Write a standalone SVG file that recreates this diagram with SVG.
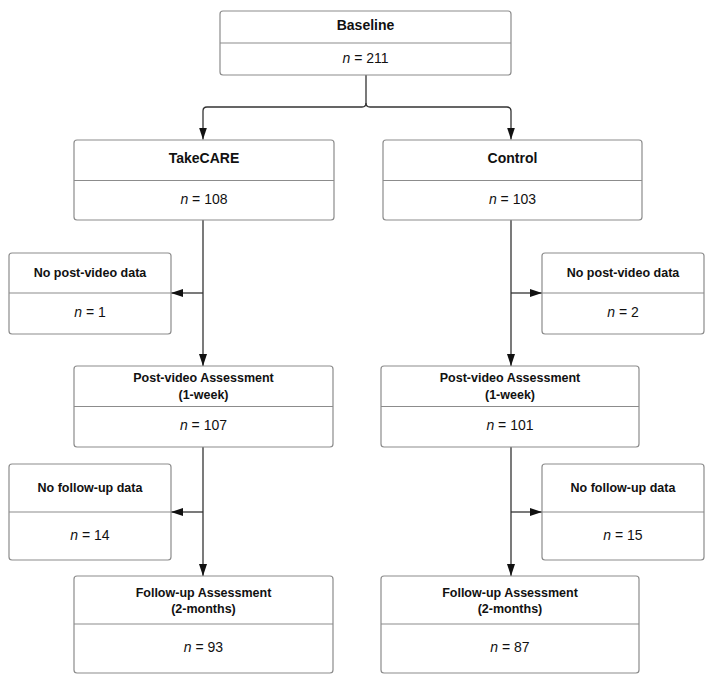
<svg xmlns="http://www.w3.org/2000/svg" width="714" height="685" viewBox="0 0 714 685">
<style>
.box{fill:#fff;stroke:#8c8c8c;stroke-width:1.2}
.div{stroke:#8c8c8c;stroke-width:1.2}
.t{font-family:"Liberation Sans",Arial,sans-serif;font-weight:bold;font-size:12.5px;fill:#111;text-anchor:middle}
.n{font-family:"Liberation Sans",Arial,sans-serif;font-size:14px;fill:#111;text-anchor:middle}
.c{fill:none;stroke:#333;stroke-width:1.3}
</style>
<defs>
<marker id="ah" markerWidth="12" markerHeight="8" refX="12" refY="4" orient="auto" markerUnits="userSpaceOnUse">
<path d="M0,0 L12,4 L0,8 Z" fill="#111"/>
</marker>
</defs>
<rect width="714" height="685" fill="#fff"/>
<g id="connectors">
<path class="c" d="M366 75 V103 Q366 107 362 107 H207 Q203 107 203 111 V139.5" marker-end="url(#ah)"/>
<path class="c" d="M366 103 Q366 107 370 107 H507 Q511 107 511 111 V139.5" marker-end="url(#ah)"/>
<path class="c" d="M203 220 V366" marker-end="url(#ah)"/>
<path class="c" d="M203 293 H171" marker-end="url(#ah)"/>
<path class="c" d="M203 447 V576" marker-end="url(#ah)"/>
<path class="c" d="M203 512 H171" marker-end="url(#ah)"/>
<path class="c" d="M511 220 V366" marker-end="url(#ah)"/>
<path class="c" d="M511 293 H542" marker-end="url(#ah)"/>
<path class="c" d="M511 447 V576" marker-end="url(#ah)"/>
<path class="c" d="M511 512 H542" marker-end="url(#ah)"/>
</g>
<g id="baseline">
<rect class="box" x="220" y="11" width="291" height="64" rx="3"/>
<line class="div" x1="220" y1="43" x2="511" y2="43"/>
<text class="t" x="365.5" y="30" style="font-size:14px">Baseline</text>
<text class="n" x="365.5" y="63"><tspan font-style="italic">n</tspan> = 211</text>
</g>
<g id="takecare">
<rect class="box" x="74" y="140" width="260" height="80" rx="3"/>
<line class="div" x1="74" y1="180.5" x2="334" y2="180.5"/>
<text class="t" x="204" y="163" style="font-size:14px">TakeCARE</text>
<text class="n" x="204" y="204"><tspan font-style="italic">n</tspan> = 108</text>
</g>
<g id="control">
<rect class="box" x="383" y="140" width="259" height="80" rx="3"/>
<line class="div" x1="383" y1="180.5" x2="642" y2="180.5"/>
<text class="t" x="512.5" y="163" style="font-size:14px">Control</text>
<text class="n" x="512.5" y="204"><tspan font-style="italic">n</tspan> = 103</text>
</g>
<g id="nopost-left">
<rect class="box" x="9" y="253" width="162" height="81" rx="3"/>
<line class="div" x1="9" y1="293" x2="171" y2="293"/>
<text class="t" x="90" y="276.5">No post-video data</text>
<text class="n" x="90" y="317"><tspan font-style="italic">n</tspan> = 1</text>
</g>
<g id="nopost-right">
<rect class="box" x="542" y="253" width="162" height="81" rx="3"/>
<line class="div" x1="542" y1="293" x2="704" y2="293"/>
<text class="t" x="623" y="276.5">No post-video data</text>
<text class="n" x="623" y="317"><tspan font-style="italic">n</tspan> = 2</text>
</g>
<g id="post-left">
<rect class="box" x="74" y="366" width="259" height="81" rx="3"/>
<line class="div" x1="74" y1="406.5" x2="333" y2="406.5"/>
<text class="t" x="203.5" y="381.5">Post-video Assessment</text>
<text class="t" x="203.5" y="398.5">(1-week)</text>
<text class="n" x="203.5" y="430"><tspan font-style="italic">n</tspan> = 107</text>
</g>
<g id="post-right">
<rect class="box" x="381" y="366" width="258" height="81" rx="3"/>
<line class="div" x1="381" y1="406.5" x2="639" y2="406.5"/>
<text class="t" x="510" y="381.5">Post-video Assessment</text>
<text class="t" x="510" y="398.5">(1-week)</text>
<text class="n" x="510" y="430"><tspan font-style="italic">n</tspan> = 101</text>
</g>
<g id="nofollow-left">
<rect class="box" x="9" y="464" width="162" height="96" rx="3"/>
<line class="div" x1="9" y1="512" x2="171" y2="512"/>
<text class="t" x="90" y="491.5">No follow-up data</text>
<text class="n" x="90" y="540"><tspan font-style="italic">n</tspan> = 14</text>
</g>
<g id="nofollow-right">
<rect class="box" x="542" y="464" width="162" height="96" rx="3"/>
<line class="div" x1="542" y1="512" x2="704" y2="512"/>
<text class="t" x="623" y="491.5">No follow-up data</text>
<text class="n" x="623" y="540"><tspan font-style="italic">n</tspan> = 15</text>
</g>
<g id="follow-left">
<rect class="box" x="74" y="576" width="259" height="97" rx="3"/>
<line class="div" x1="74" y1="624" x2="333" y2="624"/>
<text class="t" x="203.5" y="596.5">Follow-up Assessment</text>
<text class="t" x="203.5" y="612.5">(2-months)</text>
<text class="n" x="203.5" y="652"><tspan font-style="italic">n</tspan> = 93</text>
</g>
<g id="follow-right">
<rect class="box" x="381" y="576" width="258" height="97" rx="3"/>
<line class="div" x1="381" y1="624" x2="639" y2="624"/>
<text class="t" x="510" y="596.5">Follow-up Assessment</text>
<text class="t" x="510" y="612.5">(2-months)</text>
<text class="n" x="510" y="652"><tspan font-style="italic">n</tspan> = 87</text>
</g>
</svg>
